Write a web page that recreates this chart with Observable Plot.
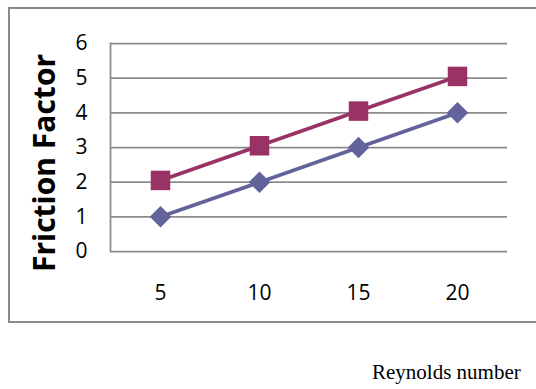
<!DOCTYPE html>
<html>
<head>
<meta charset="utf-8">
<script src="https://cdn.jsdelivr.net/npm/d3@7"></script>
<script src="https://cdn.jsdelivr.net/npm/@observablehq/plot@0.6"></script>
<style>
  html, body { margin: 0; padding: 0; background: #fff; overflow: hidden; }
  #wrap { position: relative; width: 536px; height: 389px; overflow: hidden; }
  #box { position: absolute; left: 8px; top: 7px; width: 600px; height: 312px; border: 2px solid #8a8a8a; }
  #chart { position: absolute; left: 0; top: 0; }
  #ylab { position: absolute; left: 43px; top: 163px; transform: translate(-50%, -50%) rotate(-90deg);
          font-family: "Open Sans", sans-serif; font-weight: bold; font-size: 30px; white-space: nowrap; color: #000; }
  #xlab { position: absolute; left: 372px; top: 362px; font-family: "Liberation Serif", serif; font-size: 21px;
          white-space: nowrap; color: #000; line-height: 1; }
</style>
</head>
<body>
<div id="wrap">
  <div id="box"></div>
  <div id="chart"></div>
  <div id="ylab">Friction Factor</div>
  <div id="xlab">Reynolds number</div>
</div>
<script>
const categories = [5, 10, 15, 20];
const series1 = [1, 2, 3, 4];
const series2 = [2.05, 3.05, 4.05, 5.05];
const yTicks = [0, 1, 2, 3, 4, 5, 6];

const d1 = categories.map((c, i) => ({x: c, y: series1[i]}));
const d2 = categories.map((c, i) => ({x: c, y: series2[i]}));

const chart = Plot.plot({
  width: 536,
  height: 389,
  marginLeft: 110,
  marginRight: 29,
  marginTop: 43,
  marginBottom: 138,
  style: {background: "transparent", fontFamily: "Open Sans, sans-serif"},
  x: {type: "point", domain: categories, padding: 0.5},
  y: {domain: [0, 6], ticks: yTicks},
  marks: [
    Plot.ruleY(yTicks, {stroke: "#8c8c8c", strokeWidth: 1.75}),
    Plot.frame({anchor: "left", stroke: "#8c8c8c", strokeWidth: 1.75}),
    Plot.axisY({ticks: yTicks, tickSize: 0, tickPadding: 23, fontSize: 21, label: null, tickFormat: d => String(d)}),
    Plot.axisX({tickSize: 0, tickPadding: 34, fontSize: 21, label: null, tickFormat: d => String(d)}),
    Plot.line(d1, {x: "x", y: "y", stroke: "#63639b", strokeWidth: 3.75}),
    Plot.line(d2, {x: "x", y: "y", stroke: "#993366", strokeWidth: 3.75}),
    Plot.dot(d1, {x: "x", y: "y", symbol: "diamond2", r: 9.7, fill: "#63639b", stroke: "none"}),
    Plot.dot(d2, {x: "x", y: "y", symbol: "square", r: 11, fill: "#993366", stroke: "none"})
  ]
});
document.getElementById("chart").appendChild(chart);
</script>
</body>
</html>
